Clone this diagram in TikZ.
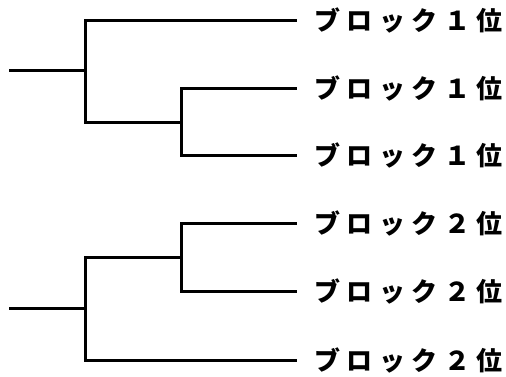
\documentclass[tikz,border=0pt]{standalone}
\usepackage{fontspec}
\newfontfamily\jpfont[LetterSpace=25]{Noto Sans CJK JP}
\usetikzlibrary{positioning}

\begin{document}
\begin{tikzpicture}[
  x=1pt, y=-1pt,
  branch/.style={line width=3pt, line cap=rect, line join=miter},
  lbl/.style={anchor=west, inner sep=0pt, font=\jpfont\bfseries\fontsize{26}{26}\selectfont}
]
  \useasboundingbox (0,0) rectangle (506,376);

  % upper tree: block 1
  \coordinate (s1) at (10,70);
  \coordinate (j1) at (85,70);
  \coordinate (k1) at (181,122);
  \coordinate (e1) at (295,20);
  \coordinate (e2) at (295,88);
  \coordinate (e3) at (295,155);

  \draw[branch] (s1) -- (j1);
  \draw[branch] (e1) -| (j1) |- (k1);
  \draw[branch] (e2) -| (k1) |- (e3);

  % lower tree: block 2
  \coordinate (s2) at (10,308);
  \coordinate (j2) at (85,308);
  \coordinate (k2) at (181,257);
  \coordinate (e4) at (295,223);
  \coordinate (e5) at (295,291);
  \coordinate (e6) at (295,360);

  \draw[branch] (s2) -- (j2);
  \draw[branch] (k2) -| (j2) |- (e6);
  \draw[branch] (e4) -| (k2) |- (e5);

  % labels
  \node[lbl, right=19pt of e1] (lab1) {ブロック１位};
  \node[lbl, right=19pt of e2] (lab2) {ブロック１位};
  \node[lbl, right=19pt of e3] (lab3) {ブロック１位};
  \node[lbl, right=19pt of e4] (lab4) {ブロック２位};
  \node[lbl, right=19pt of e5] (lab5) {ブロック２位};
  \node[lbl, right=19pt of e6] (lab6) {ブロック２位};
\end{tikzpicture}
\end{document}
